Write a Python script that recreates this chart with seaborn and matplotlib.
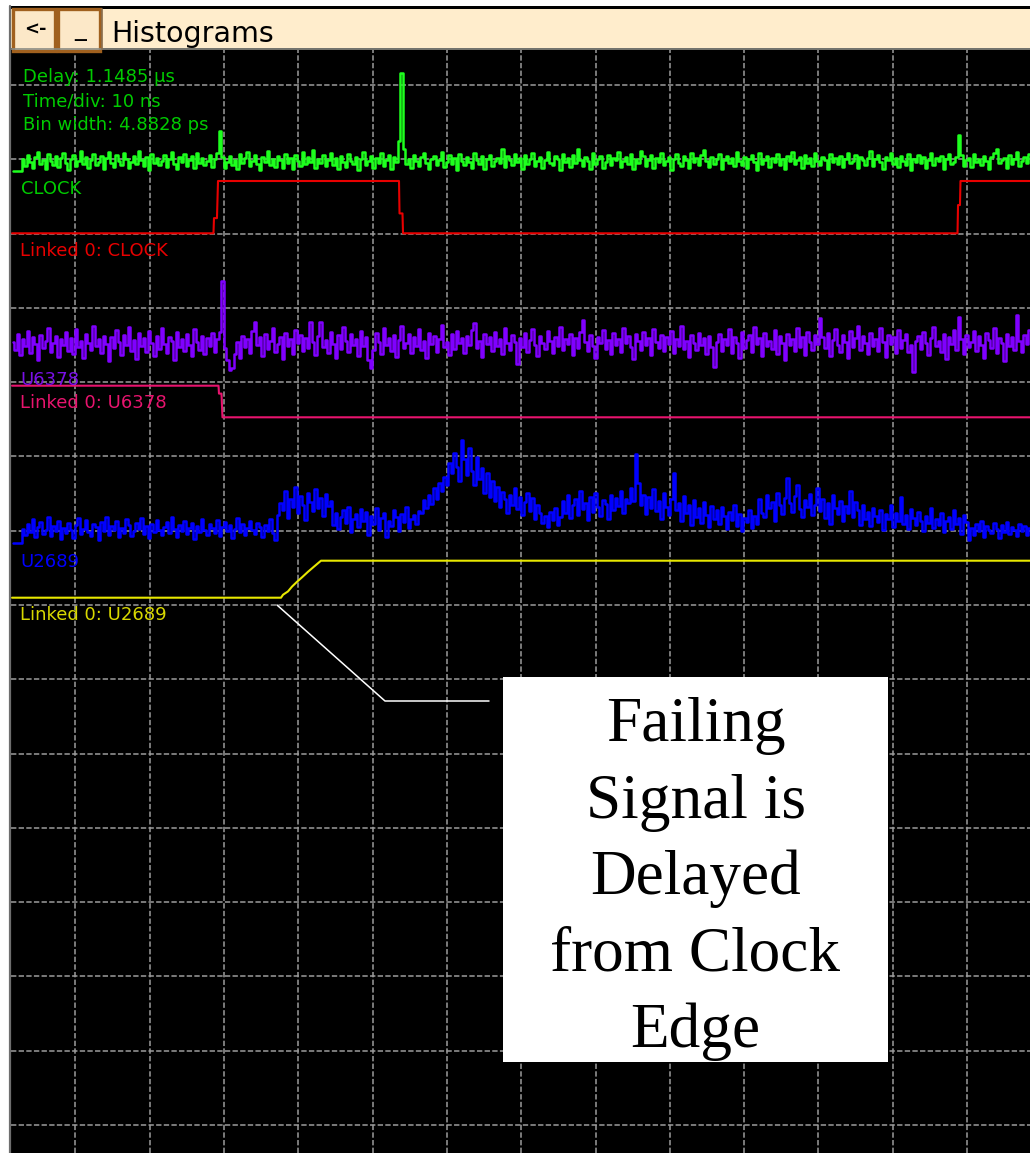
import numpy as np
import pandas as pd
import matplotlib
matplotlib.use("Agg")
import matplotlib.pyplot as plt
import seaborn as sns
from matplotlib.patches import Rectangle
from matplotlib.lines import Line2D

# ---------------------------------------------------------------- data
# Histogram bins (time in ns, 10 ns per division)
hist_t0 = -8.41
hist_dt = 0.3395

clock_hits = [
    0, 0, 0, 0, 12, 5, 16, 9, 3, 14, 19, 7, 11, 2, 17, 10, 6, 15, 4, 13,
    18, 8, 1, 12, 16, 5, 10, 20, 7, 14, 3, 11, 17, 6, 9, 15, 2, 13, 19, 8,
    4, 16, 10, 6, 18, 12, 3, 9, 15, 7, 20, 11, 5, 14, 1, 17, 8, 13, 6, 10,
    16, 4, 12, 19, 7, 2, 14, 9, 17, 5, 11, 15, 3, 18, 8, 13, 6, 10, 16, 4,
    12, 18, 40, 14, 3, 9, 15, 6, 11, 2, 17, 8, 13, 19, 5, 10, 16, 7, 1, 14,
    9, 20, 6, 12, 4, 15, 11, 3, 17, 8, 13, 2, 16, 10, 5, 19, 7, 14, 9, 21,
    3, 12, 8, 16, 5, 11, 18, 6, 13, 2, 15, 9, 4, 17, 10, 7, 14, 1, 12, 19,
    6, 10, 15, 3, 13, 8, 18, 5, 11, 16, 2, 14, 9, 30, 98, 22, 7, 12, 3, 16,
    10, 5, 14, 18, 8, 2, 12, 15, 6, 11, 19, 4, 9, 16, 7, 13, 1, 17, 10, 6,
    14, 9, 3, 18, 11, 7, 15, 2, 12, 16, 5, 10, 13, 8, 22, 4, 15, 11, 6, 17,
    9, 13, 2, 16, 7, 12, 18, 5, 10, 14, 3, 11, 19, 8, 6, 15, 12, 1, 17, 9,
    13, 4, 16, 8, 22, 11, 5, 14, 10, 2, 18, 7, 12, 15, 3, 9, 16, 6, 13, 11,
    19, 4, 10, 14, 7, 17, 2, 12, 8, 20, 15, 5, 11, 16, 3, 13, 9, 18, 6, 10,
    14, 1, 12, 17, 8, 5, 15, 11, 3, 18, 9, 13, 6, 16, 21, 10, 4, 14, 7, 12,
    17, 2, 11, 15, 8, 13, 5, 19, 10, 6, 14, 3, 12, 16, 9, 1, 18, 7, 11, 15,
    4, 13, 9, 17, 6, 12, 2, 15, 10, 19, 7, 11, 14, 3, 16, 8, 13, 5, 18, 10,
    6, 14, 11, 2, 17, 9, 13, 7, 15, 4, 12, 18, 8, 10, 16, 3, 14, 11, 6, 13,
    20, 5, 12, 16, 9, 2, 14, 11, 18, 7, 13, 4, 15, 10, 6, 17, 1, 12, 9, 16,
    8, 14, 3, 11, 18, 6, 13, 10, 15, 2, 12, 17, 7, 9, 14, 36, 16, 5, 11, 13,
    4, 17, 9, 12, 6, 15, 10, 2, 14, 18, 22, 8, 11, 13, 3, 16, 7, 12, 19, 5,
    10, 14, 8, 17, 3, 12, 15, 9,
]

u6378_hits = [
    30, 22, 38, 17, 33, 26, 41, 19, 35, 28, 12, 37, 24, 31, 44, 20, 29, 36, 15, 33,
    27, 40, 21, 34, 18, 43, 25, 31, 14, 38, 29, 22, 46, 26, 33, 19, 36, 28, 11, 35,
    24, 42, 30, 17, 37, 27, 45, 21, 32, 13, 39, 26, 34, 20, 41, 29, 16, 36, 23, 44,
    28, 19, 35, 31, 12, 40, 25, 33, 21, 38, 27, 16, 43, 30, 22, 36, 18, 34, 26, 39,
    20, 33, 40, 91, 24, 12, 2, 4, 18, 30, 14, 36, 25, 33, 19, 41, 50, 27, 35, 16,
    38, 23, 31, 44, 20, 28, 35, 13, 39, 26, 33, 18, 42, 29, 37, 21, 34, 24, 50, 30,
    17, 36, 50, 25, 32, 19, 40, 28, 14, 37, 23, 45, 31, 20, 38, 27, 33, 16, 41, 26,
    35, 12, 4, 22, 39, 30, 18, 44, 27, 34, 21, 37, 15, 32, 46, 24, 29, 38, 19, 35,
    26, 43, 22, 31, 14, 39, 28, 36, 20, 33, 47, 25, 30, 17, 38, 23, 41, 29, 34, 19,
    36, 27, 42, 49, 24, 31, 15, 38, 28, 35, 21, 40, 26, 33, 18, 44, 29, 22, 37, 30,
    8, 34, 25, 39, 20, 32, 43, 27, 16, 36, 29, 23, 41, 31, 19, 35, 26, 45, 22, 33,
    28, 38, 17, 34, 24, 40, 52, 30, 21, 37, 26, 14, 35, 29, 42, 23, 32, 18, 39, 27,
    33, 20, 44, 29, 36, 25, 13, 38, 31, 22, 40, 27, 34, 17, 43, 30, 24, 37, 21, 35,
    28, 41, 19, 33, 26, 46, 23, 31, 15, 37, 29, 22, 39, 27, 34, 18, 36, 25, 5, 30,
    38, 21, 33, 27, 43, 19, 35, 29, 14, 40, 24, 32, 37, 20, 45, 28, 34, 16, 39, 26,
    31, 23, 42, 18, 36, 29, 12, 38, 27, 33, 21, 44, 25, 35, 17, 40, 30, 22, 37, 28,
    54, 35, 24, 39, 16, 32, 43, 27, 20, 37, 30, 14, 41, 25, 34, 46, 22, 36, 29, 18,
    39, 26, 33, 21, 44, 30, 15, 37, 28, 35, 19, 42, 24, 32, 38, 20, 27, 0, 31, 36,
    23, 40, 29, 17, 34, 45, 26, 31, 20, 38, 13, 35, 28, 42, 22, 55, 33, 18, 37, 25,
    30, 41, 21, 36, 27, 14, 39, 32, 24, 44, 19, 34, 29, 11, 38, 26, 35, 22, 57, 31,
    20, 37, 28, 42, 16, 33, 25, 39,
]

u2689_hits = [
    0, 0, 0, 0, 14, 8, 19, 11, 24, 6, 16, 21, 9, 13, 26, 7, 17, 12, 22, 4,
    15, 10, 20, 13, 5, 18, 25, 9, 14, 23, 11, 7, 19, 16, 3, 21, 12, 26, 8, 17,
    13, 22, 6, 15, 10, 24, 18, 7, 12, 20, 14, 25, 9, 17, 5, 19, 11, 23, 13, 8,
    16, 21, 10, 26, 14, 6, 18, 12, 22, 9, 15, 20, 4, 17, 11, 24, 13, 8, 19, 15,
    10, 23, 7, 16, 21, 12, 18, 5, 14, 25, 11, 19, 8, 15, 22, 13, 9, 20, 16, 6,
    18, 12, 24, 10, 3, 28, 40, 33, 52, 25, 44, 36, 56, 30, 47, 38, 23, 50, 41, 32,
    54, 35, 45, 27, 49, 37, 42, 18, 30, 14, 26, 33, 20, 36, 11, 24, 29, 16, 34, 22,
    31, 8, 27, 19, 35, 13, 25, 30, 6, 22, 17, 33, 26, 12, 29, 21, 36, 15, 24, 28,
    19, 32, 30, 43, 35, 48, 39, 55, 44, 60, 52, 66, 58, 80, 70, 90, 76, 62, 103, 84,
    68, 95, 72, 58, 86, 64, 75, 50, 70, 46, 62, 42, 56, 36, 51, 44, 30, 48, 38, 55,
    34, 46, 28, 41, 50, 32, 45, 24, 38, 30, 20, 27, 16, 31, 23, 35, 18, 26, 42, 30,
    48, 25, 38, 44, 28, 52, 34, 40, 23, 46, 31, 50, 36, 27, 43, 39, 24, 48, 33, 45,
    37, 52, 30, 44, 40, 55, 42, 89, 60, 38, 48, 29, 46, 35, 54, 32, 42, 24, 50, 36,
    28, 44, 70, 33, 40, 22, 47, 30, 38, 18, 43, 26, 35, 20, 41, 28, 16, 37, 24, 33,
    19, 36, 27, 14, 31, 23, 38, 17, 29, 12, 25, 21, 33, 15, 27, 19, 44, 30, 26, 48,
    35, 41, 22, 50, 38, 29, 45, 65, 40, 31, 47, 58, 34, 26, 43, 36, 49, 28, 38, 55,
    32, 44, 25, 40, 19, 48, 35, 29, 42, 22, 37, 30, 52, 26, 41, 33, 18, 38, 24, 31,
    17, 35, 27, 21, 33, 13, 29, 24, 38, 16, 30, 22, 46, 19, 28, 14, 34, 25, 18, 31,
    22, 12, 27, 20, 35, 15, 24, 18, 30, 11, 22, 26, 14, 33, 19, 25, 9, 28, 21, 3,
    15, 8, 19, 12, 22, 6, 17, 13, 10, 20, 14, 5, 18, 11, 21, 9, 16, 13, 7, 19,
    12, 17, 8, 15, 11, 20, 9, 14,
]

# Linked signals: time (ns) and normalised logic state (0 = low, 1 = high)
clock_t = [-8.55, 18.57, 18.64, 19.04, 19.18, 43.54, 43.61, 44.01, 44.08,
           118.71, 118.78, 119.04, 119.11, 128.6]
clock_state = [0, 0, 0.29, 0.29, 1, 1, 0.38, 0.38, 0, 0, 0.54, 0.54, 1, 1]

u6378_t = [-8.55, 19.25, 19.31, 19.65, 19.78, 128.6]
u6378_state = [1, 1, 0.75, 0.75, 0, 0]

u2689_t = [-8.55, 27.66, 27.93, 28.60, 29.14, 29.81, 30.48, 31.29, 32.10, 33.04, 128.6]
u2689_state = [0, 0, 0.08, 0.17, 0.30, 0.43, 0.55, 0.70, 0.84, 1, 1]

info_lines = ["Delay: 1.1485 µs", "Time/div: 10 ns", "Bin width: 4.8828 ps"]
callout_lines = ["Failing", "Signal is", "Delayed", "from Clock", "Edge"]

# ---------------------------------------------------------------- style
W, H = 1030, 1153
sns.set_theme(style="dark")
plt.rcParams["font.family"] = ["DejaVu Sans"]

GREEN, GREEN_TXT = "#1EFF1E", "#00CC00"
RED = "#E80000"
PURPLE, PURPLE_TXT = "#8000FF", "#7A10E8"
PINK = "#E8146E"
BLUE = "#0000FF"
YELLOW, YELLOW_TXT = "#E8E800", "#D8D800"
GRID = "#9C9C9C"
BEIGE, BROWN = "#FFEDCC", "#A0601E"

PX_PER_DIV = 74.29
hits_per_div = PX_PER_DIV  # one hit draws one pixel tall

fig = plt.figure(figsize=(W / 100, H / 100), dpi=100)
fig.patch.set_facecolor("white")

# scope screen: x in ns, y in divisions (0 = bottom grid line)
ax_left, ax_top = 10.5, 50
ax = fig.add_axes([ax_left / W, 0, (W - ax_left) / W, (H - ax_top) / H])
ax.set_facecolor("black")
ax.set_xlim((ax_left - 75.5) / 7.43, (W - 75.5) / 7.43)
ax.set_ylim((1125 - H) / PX_PER_DIV, (1125 - ax_top) / PX_PER_DIV)
ax.set_xticks(np.arange(0, 130, 10))
ax.set_yticks(np.arange(0, 15))
ax.tick_params(length=0, labelbottom=False, labelleft=False)
ax.grid(True, color=GRID, linestyle=(0, (3.5, 1.5)), linewidth=1.1)
ax.set_axisbelow(True)
for s in ax.spines.values():
    s.set_visible(False)

# pixel-space overlay for the window chrome and call-out
ov = fig.add_axes([0, 0, 1, 1], zorder=5)
ov.set_xlim(0, W)
ov.set_ylim(H, 0)
ov.axis("off")
ov.patch.set_alpha(0)


def hist_frame(hits):
    t = hist_t0 + hist_dt * np.arange(len(hits))
    return pd.DataFrame({"t": t, "hits": np.asarray(hits, float)})


def draw_hist(hits, base, color):
    df = hist_frame(hits)
    df["y"] = base + df["hits"] / hits_per_div
    sns.lineplot(data=df, x="t", y="y", ax=ax, color=color, lw=1.8,
                 drawstyle="steps-mid", estimator=None, sort=False)


def draw_logic(t, state, low, high, color):
    df = pd.DataFrame({"t": t, "state": state})
    df["y"] = low + df["state"] * (high - low)
    sns.lineplot(data=df, x="t", y="y", ax=ax, color=color, lw=1.5,
                 estimator=None, sort=False)


def row(px):
    return (1125 - px) / PX_PER_DIV


draw_hist(clock_hits, row(171), GREEN)
draw_logic(clock_t, clock_state, row(233.3), row(181), RED)
draw_hist(u6378_hits, row(372), PURPLE)
draw_logic(u6378_t, u6378_state, row(417.3), row(385.7), PINK)
draw_hist(u2689_hits, row(543), BLUE)
draw_logic(u2689_t, u2689_state, row(597.7), row(560.7), YELLOW)

# trace labels (pixel positions on the screen)
lab_kw = dict(fontsize=13, va="baseline", ha="left", transform=ov.transData, zorder=3)
for i, txt in enumerate(info_lines):
    ax.text(23, 82 + 24 * i, txt, color=GREEN_TXT, **lab_kw)
ax.text(21, 194, "CLOCK", color=GREEN_TXT, **lab_kw)
ax.text(20, 256, "Linked 0: CLOCK", color=RED, **lab_kw)
ax.text(20, 385, "U6378", color=PURPLE_TXT, **lab_kw)
ax.text(20, 408, "Linked 0: U6378", color=PINK, **lab_kw)
ax.text(20, 567, "U2689", color=BLUE, **lab_kw)
ax.text(20, 620, "Linked 0: U2689", color=YELLOW_TXT, **lab_kw)

# window title bar
ov.add_patch(Rectangle((9, 6), W - 9, 44, facecolor="black", edgecolor="none"))
ov.add_patch(Rectangle((11, 9.3), W - 11, 39, facecolor=BEIGE, edgecolor="none"))
ov.add_line(Line2D([11, W], [49, 49], color="#8C8C84", lw=1.2))
ov.add_line(Line2D([9.8, 9.8], [6, H], color="#6E6E6E", lw=1.6))
for x0 in (12.5, 57.5):
    ov.add_patch(Rectangle((x0, 9), 42, 42, facecolor="#FCE8C8",
                           edgecolor=BROWN, lw=2.4))
ov.text(35, 35, "<-", fontsize=13, fontweight="bold", color="black",
        ha="center", va="baseline")
ov.text(80, 35, "_", fontsize=17, color="black", ha="center", va="baseline")
ov.add_line(Line2D([101.5, 101.5], [9, 49], color="#8A7050", lw=1.2))
ov.text(111, 42, "Histograms", fontsize=20.5, color="black",
        ha="left", va="baseline")

# call-out
ov.add_line(Line2D([277, 385, 489], [605, 701, 701], color="white", lw=1.1))
ov.add_patch(Rectangle((503, 677), 385, 385, facecolor="white", edgecolor="none"))
for i, txt in enumerate(callout_lines):
    ov.text(695.5, 741 + 76.5 * i, txt, fontsize=45.5, color="black",
            family="Liberation Serif", ha="center", va="baseline")

fig.savefig("out.png", dpi=100, facecolor=fig.get_facecolor())
